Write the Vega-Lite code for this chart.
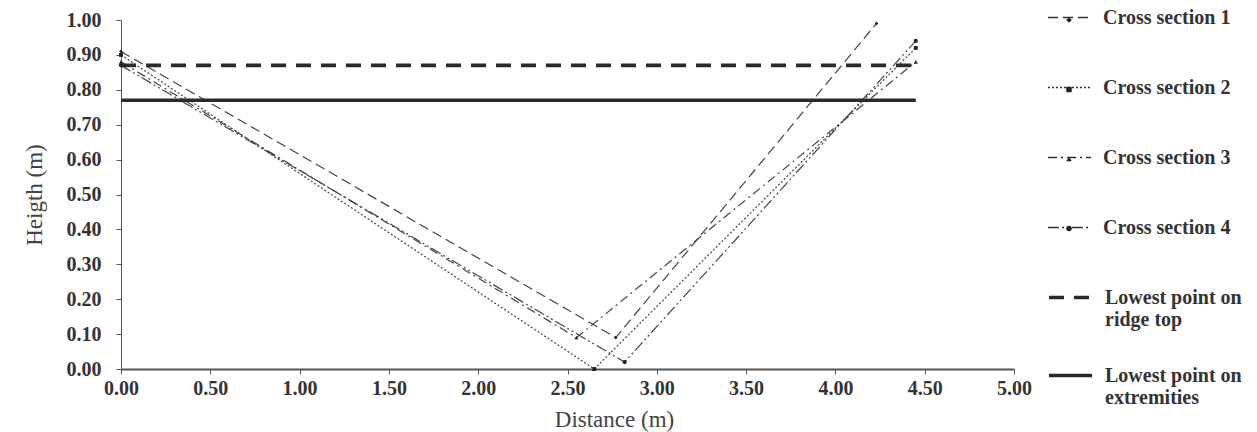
{
  "$schema": "https://vega.github.io/schema/vega-lite/v6.json",
  "width": 893,
  "height": 349,
  "autosize": {"type": "none"},
  "padding": {"left": 121, "top": 20, "right": 243, "bottom": 63},
  "background": "white",
  "config": {
    "view": {"stroke": null},
    "axis": {
      "grid": false,
      "labelFont": "Liberation Serif",
      "labelFontWeight": "bold",
      "labelFontSize": 20,
      "labelColor": "#333333",
      "labelOverlap": false,
      "labelFlush": false,
      "titleFont": "Liberation Serif",
      "titleFontWeight": "normal",
      "titleFontSize": 23,
      "titleColor": "#444444",
      "domainColor": "#555555",
      "tickColor": "#555555",
      "tickSize": 5
    },
    "legend": {
      "padding": 0,
      "labelFont": "Liberation Serif",
      "labelFontWeight": "bold",
      "labelFontSize": 20,
      "labelColor": "#333333",
      "labelOffset": 11,
      "labelLimit": 300
    }
  },
  "data": {
    "values": [
      {"series": "Cross section 1", "x": 0.0, "y": 0.91},
      {"series": "Cross section 1", "x": 2.77, "y": 0.09},
      {"series": "Cross section 1", "x": 4.23, "y": 0.99},
      {"series": "Cross section 2", "x": 0.0, "y": 0.90},
      {"series": "Cross section 2", "x": 2.65, "y": 0.0},
      {"series": "Cross section 2", "x": 4.45, "y": 0.92},
      {"series": "Cross section 3", "x": 0.0, "y": 0.88},
      {"series": "Cross section 3", "x": 2.55, "y": 0.09},
      {"series": "Cross section 3", "x": 4.45, "y": 0.88},
      {"series": "Cross section 4", "x": 0.0, "y": 0.87},
      {"series": "Cross section 4", "x": 2.82, "y": 0.02},
      {"series": "Cross section 4", "x": 4.45, "y": 0.94},
      {"series": "Lowest point on ridge top", "x": 0.0, "y": 0.87},
      {"series": "Lowest point on ridge top", "x": 4.45, "y": 0.87},
      {"series": "Lowest point on extremities", "x": 0.0, "y": 0.77},
      {"series": "Lowest point on extremities", "x": 4.45, "y": 0.77}
    ]
  },
  "encoding": {
    "x": {
      "field": "x", "type": "quantitative",
      "scale": {"domain": [0, 5], "nice": false},
      "axis": {"values": [0, 0.5, 1, 1.5, 2, 2.5, 3, 3.5, 4, 4.5, 5], "format": ".2f", "title": "Distance (m)", "titleX": 493, "domainWidth": 2, "labelPadding": 4, "titlePadding": 10, "labelOverlap": false, "labelFlush": false}
    },
    "y": {
      "field": "y", "type": "quantitative",
      "scale": {"domain": [0, 1], "nice": false},
      "axis": {"values": [0, 0.1, 0.2, 0.3, 0.4, 0.5, 0.6, 0.7, 0.8, 0.9, 1], "format": ".2f", "title": "Heigth (m)", "labelPadding": 15, "titlePadding": 20, "labelOverlap": false, "labelFlush": false}
    }
  },
  "resolve": {"scale": {"strokeDash": "independent"}, "legend": {"strokeDash": "independent", "shape": "independent"}},
  "layer": [
    {
      "transform": [{"filter": "indexof(datum.series, 'Cross') == 0"}],
      "mark": {"type": "line", "color": "#444444", "strokeWidth": 1.2},
      "encoding": {
        "strokeDash": {
          "field": "series", "type": "nominal",
          "scale": {
            "domain": ["Cross section 1", "Cross section 2", "Cross section 3", "Cross section 4"],
            "range": [[10, 5], [2, 2], [9, 4, 2, 4], [11, 3, 2, 3, 2, 3]]
          },
          "legend": {
            "title": null,
            "orient": "none",
            "legendX": 926,
            "legendY": -25,
            "symbolType": "stroke",
            "symbolSize": 1850,
            "symbolStrokeColor": "#333333",
            "symbolStrokeWidth": 1.3,
            "rowPadding": 37
          }
        }
      }
    },
    {
      "transform": [{"filter": "indexof(datum.series, 'Lowest') == 0"}],
      "mark": {"type": "line", "color": "#2a2a2a", "strokeWidth": 3.6},
      "encoding": {
        "strokeDash": {
          "field": "series", "type": "nominal",
          "scale": {
            "domain": ["Lowest point on ridge top", "Lowest point on extremities"],
            "range": [[15, 10], [1, 0]]
          },
          "legend": {
            "title": null,
            "orient": "none",
            "legendX": 926,
            "legendY": 254,
            "symbolType": "stroke",
            "symbolSize": 1850,
            "symbolStrokeColor": "#2a2a2a",
            "symbolStrokeWidth": 3.6,
            "rowPadding": 22,
            "labelExpr": "datum.label == 'Lowest point on ridge top' ? ['Lowest point on', 'ridge top'] : ['Lowest point on', 'extremities']"
          }
        }
      }
    },
    {
      "transform": [{"filter": "indexof(datum.series, 'Cross') == 0"}],
      "mark": {"type": "point", "filled": true, "color": "#222222", "opacity": 1},
      "encoding": {
        "shape": {
          "field": "series", "type": "nominal",
          "scale": {"domain": ["Cross section 1", "Cross section 2", "Cross section 3", "Cross section 4"], "range": ["diamond", "square", "triangle-up", "circle"]},
          "legend": {
            "title": null,
            "orient": "none",
            "legendX": 938,
            "legendY": -10,
            "symbolSize": 30,
            "symbolFillColor": "#222222",
            "symbolStrokeColor": "#222222",
            "symbolStrokeWidth": 0,
            "rowPadding": 49.5,
            "labelExpr": "''"
          }
        },
        "size": {
          "field": "series", "type": "ordinal",
          "scale": {"domain": ["Cross section 1", "Cross section 2", "Cross section 3", "Cross section 4"], "range": [14, 18, 16, 70]},
          "legend": null
        }
      }
    }
  ]
}
